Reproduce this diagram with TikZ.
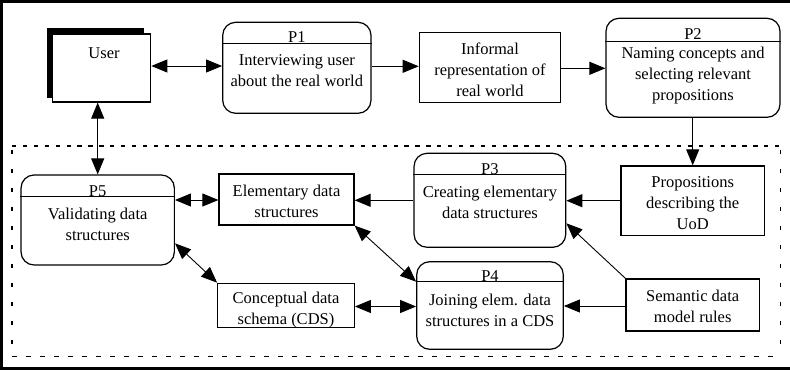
\documentclass[tikz,border=0pt]{standalone}
\usepackage{fontspec}
\setmainfont{Liberation Serif}
\usetikzlibrary{arrows.meta}
\begin{document}
\begin{tikzpicture}[x=1pt,y=-1pt,
  every node/.style={font=\fontsize{16.5}{21}\selectfont, inner sep=0pt, align=center},
  plainbox/.style={draw, line width=1.2pt, fill=white, rectangle},
  procbox/.style={draw, line width=1.2pt, fill=white, rectangle, rounded corners=13pt},
  sepline/.style={line width=0.9pt},
  conn/.style={line width=0.9pt, -{Triangle[length=16pt,width=13pt]}},
  biconn/.style={line width=0.9pt, {Triangle[length=16pt,width=13pt]}-{Triangle[length=16pt,width=13pt]}},
  hdash/.style={line width=1.1pt, dash pattern=on 4.3pt off 6.6pt},
  bdash/.style={line width=1.1pt, dash pattern=on 5pt off 9pt},
  vdash/.style={line width=1.1pt, dash pattern=on 4pt off 15pt}]
\useasboundingbox (0,0) rectangle (790,371);
% outer frame
\draw[line width=2.6pt] (790,1.3) -- (1.3,1.3) -- (1.3,368.5) -- (790,368.5);
% dashed inner frame
\draw[hdash] (12,146) -- (780.7,146);
\draw[vdash] (780.7,150) -- (780.7,356.7);
\draw[bdash] (12,356.7) -- (780.7,356.7);
\draw[vdash] (12,150) -- (12,356.7);

% User (with shadow)
\fill (46.7,28.3) rectangle (144,97.7);
\node[plainbox, minimum width=98pt, minimum height=68pt] (user) at (101.7,68) {};
\node (usert) at (104,53) {User};

% P1
\node[procbox, minimum width=148.3pt, minimum height=91pt] (p1) at (296.85,67.8) {};
\draw[sepline] (p1.west |- 0,43.3) -- (p1.east |- 0,43.3);
\node[anchor=base] (p1h) at (296.85,43) {P1};
\node (p1t) at (296.85,70.5) {Interviewing user\\about the real world};

% Informal representation
\node[plainbox, minimum width=141.4pt, minimum height=69.6pt] (inf) at (490,67.5) {};
\node (inft) at (490,69.5) {Informal\\representation of\\real world};

% P2
\node[procbox, minimum width=174pt, minimum height=99pt] (p2) at (693,67.8) {};
\draw[sepline] (p2.west |- 0,41.7) -- (p2.east |- 0,41.7);
\node[anchor=base] (p2h) at (693,39.5) {P2};
\node (p2t) at (693,76) {Naming concepts and\\selecting relevant\\propositions};

% Propositions
\node[plainbox, minimum width=143.3pt, minimum height=69.7pt] (prop) at (692.7,200.8) {};
\node (propt) at (692.7,203.5) {Propositions\\describing the\\UoD};

% P3
\node[procbox, minimum width=151.7pt, minimum height=94pt] (p3) at (489.9,200.3) {};
\draw[sepline] (p3.west |- 0,174.3) -- (p3.east |- 0,174.3);
\node[anchor=base] (p3h) at (489.9,174.3) {P3};
\node (p3t) at (489.9,202.3) {Creating elementary\\data structures};

% Elementary data structures
\node[plainbox, minimum width=135pt, minimum height=51pt] (elem) at (286.5,199.5) {};
\node (elemt) at (286.5,201.5) {Elementary data\\structures};

% P5
\node[procbox, minimum width=153.3pt, minimum height=90pt] (p5) at (97.7,220) {};
\draw[sepline] (p5.west |- 0,196) -- (p5.east |- 0,196);
\node[anchor=base] (p5h) at (97.7,196.5) {P5};
\node (p5t) at (97.7,224) {Validating data\\structures};

% Conceptual data schema
\node[plainbox, minimum width=136.6pt, minimum height=44.4pt] (cds) at (286,305.5) {};
\node (cdst) at (286,309.8) {Conceptual data\\schema (CDS)};

% P4
\node[procbox, minimum width=146.6pt, minimum height=87.6pt] (p4) at (490,305.5) {};
\draw[sepline] (p4.west |- 0,281.7) -- (p4.east |- 0,281.7);
\node[anchor=base] (p4h) at (490,281.7) {P4};
\node (p4t) at (490,310.7) {Joining elem. data\\structures in a CDS};

% Semantic data model rules
\node[plainbox, minimum width=133.3pt, minimum height=52pt] (sem) at (692.7,305) {};
\node (semt) at (692.7,306.8) {Semantic data\\model rules};

% connectors
\draw[biconn] (user.east |- 0,66) -- (p1.west |- 0,66);
\draw[conn] (p1.east |- 0,66.3) -- (inf.west |- 0,66.3);
\draw[conn] (inf.east |- 0,68.3) -- (p2.west |- 0,68.3);
\draw[conn] (p2.south -| 692.7,0) -- (prop.north);
\draw[biconn] (user.south -| 97.7,0) -- (p5.north);
\draw[conn] (prop.west |- 0,200.7) -- (p3.east |- 0,200.7);
\draw[conn] (p3.west |- 0,200.3) -- (elem.east |- 0,200.3);
\draw[biconn] (p5.east |- 0,200) -- (elem.west |- 0,200);
\draw[biconn] (p5.east |- 0,243.3) -- (cds.north west);
\draw[biconn] (elem.south east) -- (p4.west |- 0,281.7);
\draw[biconn] (cds.east |- 0,306.5) -- (p4.west |- 0,306.5);
\draw[conn] (sem.west |- 0,306) -- (p4.east |- 0,306);
\draw[conn] (sem.north west) -- (p3.east |- 0,223.3);
\end{tikzpicture}
\end{document}
